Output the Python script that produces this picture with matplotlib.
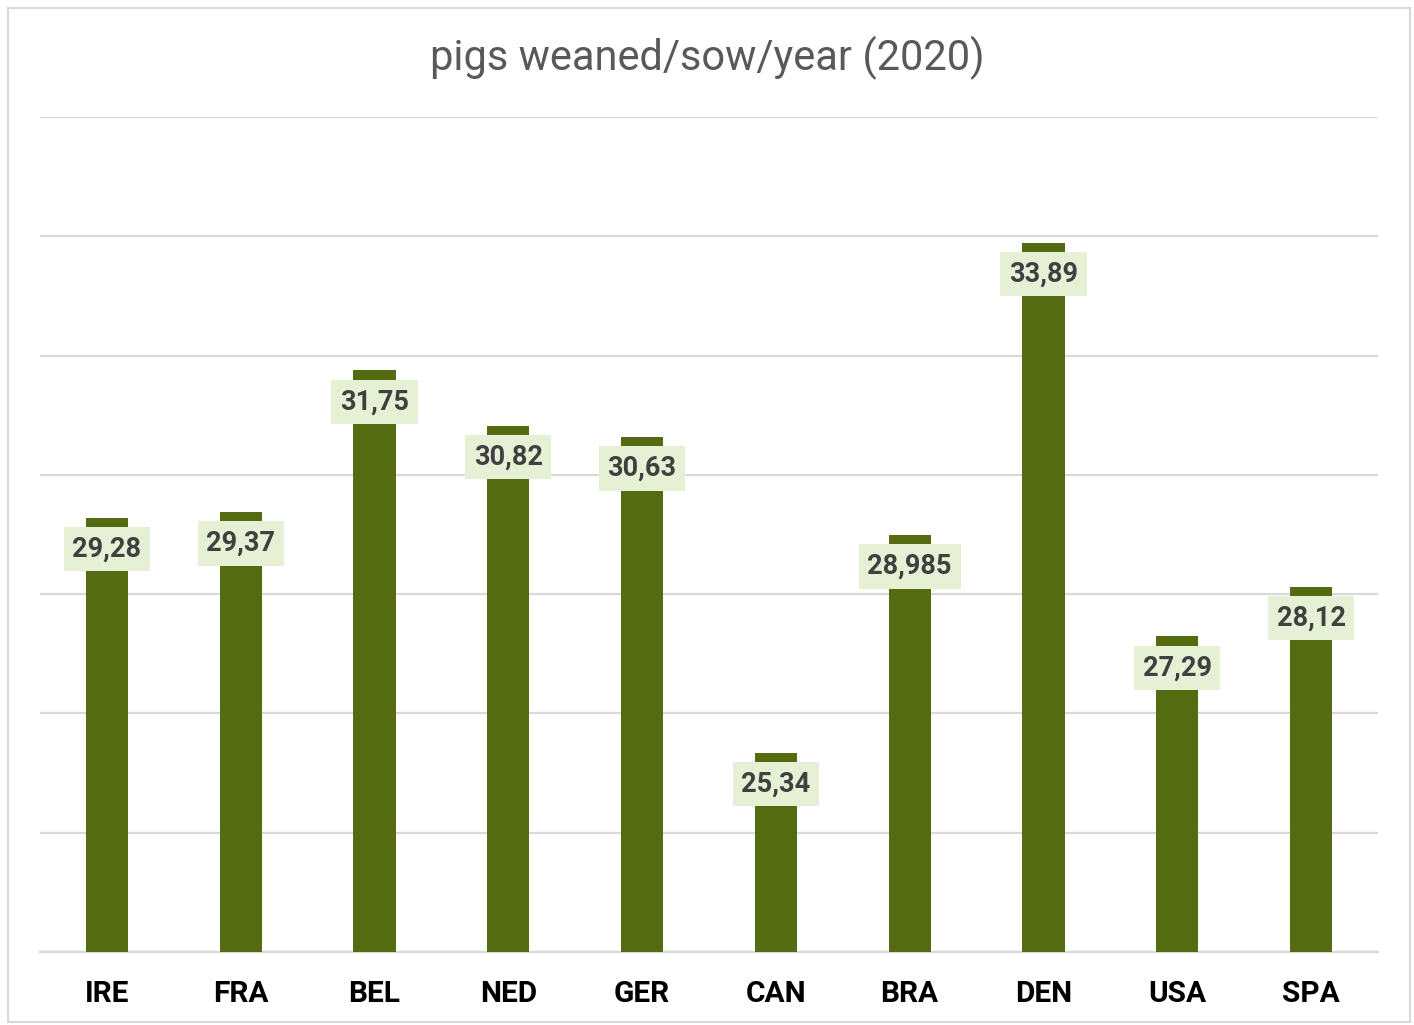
import matplotlib
matplotlib.use("Agg")
import matplotlib.pyplot as plt
from matplotlib.patches import Rectangle

countries = ["IRE", "FRA", "BEL", "NED", "GER", "CAN", "BRA", "DEN", "USA", "SPA"]
pigs_weaned = [29.28, 29.37, 31.75, 30.82, 30.63, 25.34, 28.985, 33.89, 27.29, 28.12]
value_labels = ["29,28", "29,37", "31,75", "30,82", "30,63", "25,34", "28,985", "33,89", "27,29", "28,12"]

plt.rcParams['font.family'] = ['Roboto', 'DejaVu Sans']

fig = plt.figure(figsize=(14.14, 10.25), dpi=100)
ax = fig.add_axes([0.0283, 0.0712, 0.9462, 0.8147])

# outer border
fig.patches.append(Rectangle((8 / 1414, 3 / 1025), 1402 / 1414, 1014 / 1025,
                             transform=fig.transFigure, fill=False,
                             edgecolor='#d9d9d9', linewidth=1.5))

x = range(len(countries))
ax.bar(x, pigs_weaned, width=0.315, color='#546b12', zorder=3)

for xi, v, lab in zip(x, pigs_weaned, value_labels):
    ax.annotate(lab, (xi, v), xytext=(0, -22.5), textcoords='offset points',
                ha='center', va='center', fontsize=19.5, fontweight='bold',
                color='#404040', zorder=4,
                bbox=dict(boxstyle='square,pad=0.32', facecolor='#e6f0d5',
                          edgecolor='none'))

ax.set_ylim(22, 36)
ax.set_xlim(-0.5, len(countries) - 0.5)
ax.set_yticks(range(22, 37, 2))
ax.yaxis.grid(True, color='#d9d9d9', linewidth=1.6, zorder=0)
ax.tick_params(axis='y', left=False, labelleft=False)
ax.tick_params(axis='x', length=0, pad=20)
ax.set_xticks(list(x))
ax.set_xticklabels(countries, fontsize=21.5, fontweight='bold', color='black')
for s in ['top', 'left', 'right']:
    ax.spines[s].set_visible(False)
ax.spines['bottom'].set_color('#d9d9d9')
ax.spines['bottom'].set_linewidth(1.6)

fig.text(0.5, 0.943, "pigs weaned/sow/year (2020)", ha='center', va='center',
         fontsize=30, color='#595959')

fig.savefig("out.png", dpi=100, facecolor='white')
